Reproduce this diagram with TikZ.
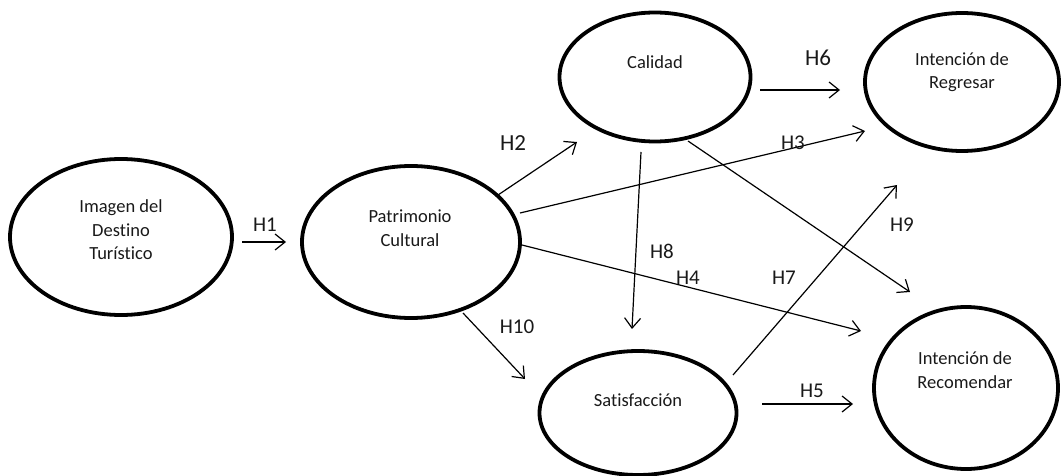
\documentclass[tikz,border=0pt]{standalone}
\usepackage{fontspec}
\setmainfont[Ligatures=NoCommon]{Carlito}
\usetikzlibrary{shapes.geometric,arrows.meta}
\tikzset{
  latent/.style={ellipse, draw, line width=3.8pt, inner sep=0pt},
  lbl/.style={align=center, font=\fontsize{18.5}{23.5}\selectfont, text=black!90},
  hyp/.style={font=\fontsize{21}{24}\selectfont, text=black!90, inner sep=0pt},
  bighyp/.style={hyp, font=\fontsize{23}{26}\selectfont},
  path/.style={line width=1.2pt, -{Straight Barb[length=10pt,width=16pt,line width=1.2pt]}}
}
\begin{document}
\begin{tikzpicture}[x=1pt,y=-1pt]
\useasboundingbox (0,0) rectangle (1061,476);
% latent variables
\node[latent, minimum width=222pt, minimum height=156pt] (img) at (121,237) {};
\node[latent, minimum width=218pt, minimum height=152pt] (pat) at (411,242) {};
\node[latent, minimum width=191pt, minimum height=129pt] (cal) at (655,77) {};
\node[latent, minimum width=194pt, minimum height=138pt] (reg) at (962,82) {};
\node[latent, minimum width=197pt, minimum height=124pt] (sat) at (638,413) {};
\node[latent, minimum width=184pt, minimum height=162pt] (rec) at (966,388) {};
% texts
\node[lbl] (timg) at (121,230) {Imagen del\\Destino\\Turístico};
\node[lbl] (tpat) at (410,228) {Patrimonio\\Cultural};
\node[lbl] (tcal) at (655,62) {Calidad};
\node[lbl] (treg) at (962,72) {Intención de\\Regresar};
\node[lbl] (tsat) at (638,400) {Satisfacción};
\node[lbl] (trec) at (965,370) {Intención de\\Recomendar};
% arrow end points
\coordinate (h1a) at (242,242); \coordinate (h1b) at (286,242);
\coordinate (h2a) at (498,195); \coordinate (h2b) at (577,142);
\coordinate (h3a) at (520,213); \coordinate (h3b) at (865,131);
\coordinate (h4a) at (522,245); \coordinate (h4b) at (861,331);
\coordinate (h5a) at (762,404); \coordinate (h5b) at (853,404);
\coordinate (h6a) at (760,90);  \coordinate (h6b) at (840,90);
\coordinate (h7a) at (733,375); \coordinate (h7b) at (897,185);
\coordinate (h8a) at (641,152); \coordinate (h8b) at (632,329);
\coordinate (h9a) at (688,141); \coordinate (h9b) at (910,292);
\coordinate (h10a) at (463,313); \coordinate (h10b) at (525,379);
\draw[path] (h1a) -- (h1b);
\draw[path] (h2a) -- (h2b);
\draw[path] (h3a) -- (h3b);
\draw[path] (h4a) -- (h4b);
\draw[path] (h5a) -- (h5b);
\draw[path] (h6a) -- (h6b);
\draw[path] (h7a) -- (h7b);
\draw[path] (h8a) -- (h8b);
\draw[path] (h9a) -- (h9b);
\draw[path] (h10a) -- (h10b);
% labels
\node[hyp] (H1) at (265,225) {H1};
\node[bighyp] (H2) at (513,143) {H2};
\node[hyp] (H3) at (793,143) {H3};
\node[hyp] (H4) at (688,278) {H4};
\node[hyp] (H5) at (812,391) {H5};
\node[bighyp] (H6) at (818,58) {H6};
\node[hyp] (H7) at (784,278) {H7};
\node[hyp] (H8) at (662,251) {H8};
\node[hyp] (H9) at (902,225) {H9};
\node[hyp] (H10) at (517,327) {H10};
\end{tikzpicture}
\end{document}
